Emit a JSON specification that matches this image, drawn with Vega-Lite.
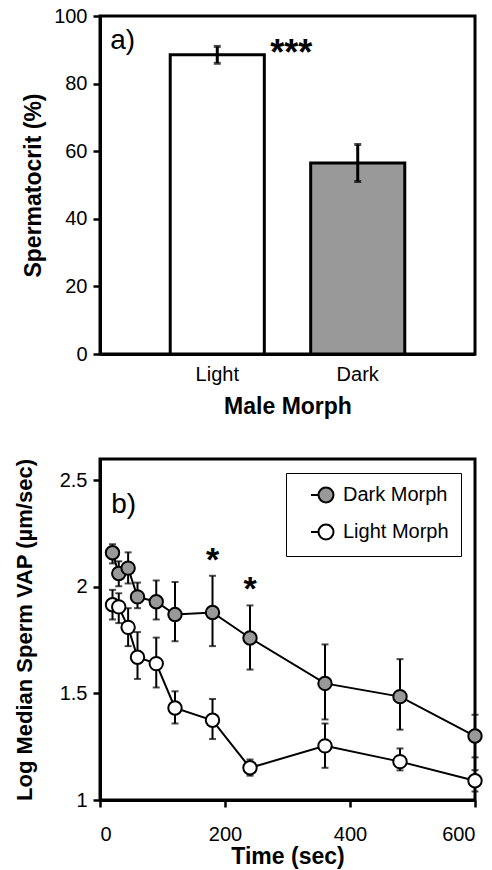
{
  "$schema": "https://vega.github.io/schema/vega-lite/v6.json",
  "background": "white",
  "padding": {"left": 11, "top": 4, "right": 10, "bottom": 2},
  "spacing": 36,
  "resolve": {"scale": {"fill": "independent"}, "legend": {"fill": "independent"}},
  "config": {
    "font": "Liberation Sans",
    "view": {"stroke": "black", "strokeWidth": 3},
    "axis": {"domainColor": "black", "domainWidth": 3, "tickColor": "black", "tickWidth": 2.5, "tickSize": 7, "labelColor": "black", "labelFontSize": 20, "labelFont": "Liberation Sans", "titleColor": "black", "titleFont": "Liberation Sans", "titleFontSize": 23, "titleFontWeight": "bold", "grid": false}
  },
  "vconcat": [
    {
      "width": 375,
      "height": 338,
      "data": {"values": [
        {"morph": "Light", "pct": 88.5, "lo": 86, "hi": 91},
        {"morph": "Dark", "pct": 56.5, "lo": 51, "hi": 62}
      ]},
      "encoding": {
        "x": {"field": "morph", "type": "nominal", "sort": ["Light", "Dark"], "scale": {"paddingInner": 0.33, "paddingOuter": 0.5}, "axis": {"title": "Male Morph", "labelAngle": 0, "ticks": false, "labelPadding": 10, "titlePadding": 11}}
      },
      "layer": [
        {
          "mark": {"type": "bar", "stroke": "black", "strokeWidth": 3},
          "encoding": {
            "y": {"field": "pct", "type": "quantitative", "title": "Spermatocrit (%)", "scale": {"domain": [0, 100]}, "axis": {"values": [0, 20, 40, 60, 80, 100], "labelPadding": 6, "titlePadding": 8}},
            "fill": {"field": "morph", "type": "nominal", "scale": {"domain": ["Light", "Dark"], "range": ["white", "#999999"]}, "legend": null}
          }
        },
        {
          "mark": {"type": "errorbar", "ticks": {"size": 7, "thickness": 3, "color": "black"}, "rule": {"strokeWidth": 3, "color": "black"}},
          "encoding": {
            "y": {"field": "lo", "type": "quantitative", "title": "Spermatocrit (%)", "scale": {"domain": [0, 100]}},
            "y2": {"field": "hi"}
          }
        },
        {
          "data": {"values": [{"note": "***"}]},
          "mark": {"type": "text", "fontSize": 36, "fontWeight": "bold", "dx": 74, "baseline": "alphabetic", "align": "center", "color": "black"},
          "encoding": {"x": {"datum": "Light"}, "y": {"datum": 85.5}, "text": {"field": "note"}}
        },
        {
          "data": {"values": [{"note": "a)"}]},
          "mark": {"type": "text", "fontSize": 28, "dx": -107, "baseline": "alphabetic", "align": "left", "color": "black"},
          "encoding": {"x": {"datum": "Light"}, "y": {"datum": 90.2}, "text": {"field": "note"}}
        }
      ]
    },
    {
      "width": 375,
      "height": 341,
      "data": {"values": [
        {"morph": "Dark Morph", "t": 20, "v": 2.16, "lo": 2.11, "hi": 2.2},
        {"morph": "Dark Morph", "t": 30, "v": 2.063, "lo": 2.003, "hi": 2.12},
        {"morph": "Dark Morph", "t": 45, "v": 2.088, "lo": 2.016, "hi": 2.162},
        {"morph": "Dark Morph", "t": 60, "v": 1.953, "lo": 1.9, "hi": 2.02},
        {"morph": "Dark Morph", "t": 90, "v": 1.93, "lo": 1.847, "hi": 2.03},
        {"morph": "Dark Morph", "t": 120, "v": 1.87, "lo": 1.745, "hi": 2.023},
        {"morph": "Dark Morph", "t": 180, "v": 1.88, "lo": 1.722, "hi": 2.052, "sig": "*"},
        {"morph": "Dark Morph", "t": 240, "v": 1.76, "lo": 1.612, "hi": 1.913, "sig": "*"},
        {"morph": "Dark Morph", "t": 360, "v": 1.547, "lo": 1.378, "hi": 1.73},
        {"morph": "Dark Morph", "t": 480, "v": 1.485, "lo": 1.33, "hi": 1.661},
        {"morph": "Dark Morph", "t": 600, "v": 1.3, "lo": 1.2, "hi": 1.4},
        {"morph": "Light Morph", "t": 20, "v": 1.916, "lo": 1.847, "hi": 1.986},
        {"morph": "Light Morph", "t": 30, "v": 1.906, "lo": 1.83, "hi": 1.97},
        {"morph": "Light Morph", "t": 45, "v": 1.81, "lo": 1.722, "hi": 1.9},
        {"morph": "Light Morph", "t": 60, "v": 1.67, "lo": 1.568, "hi": 1.788},
        {"morph": "Light Morph", "t": 90, "v": 1.64, "lo": 1.528, "hi": 1.762},
        {"morph": "Light Morph", "t": 120, "v": 1.432, "lo": 1.359, "hi": 1.51},
        {"morph": "Light Morph", "t": 180, "v": 1.374, "lo": 1.286, "hi": 1.474},
        {"morph": "Light Morph", "t": 240, "v": 1.151, "lo": 1.114, "hi": 1.19},
        {"morph": "Light Morph", "t": 360, "v": 1.254, "lo": 1.151, "hi": 1.359},
        {"morph": "Light Morph", "t": 480, "v": 1.18, "lo": 1.139, "hi": 1.242},
        {"morph": "Light Morph", "t": 600, "v": 1.09, "lo": 1.04, "hi": 1.14}
      ]},
      "layer": [
        {
          "mark": {"type": "errorbar", "ticks": {"size": 7, "thickness": 2, "color": "black"}, "rule": {"strokeWidth": 2, "color": "black"}},
          "encoding": {
            "x": {"field": "t", "type": "quantitative", "title": "Time (sec)", "scale": {"domain": [0, 600]}, "axis": {"values": [0, 200, 400, 600], "labelPadding": 17, "titlePadding": 1}},
            "y": {"field": "lo", "type": "quantitative", "title": "Log Median Sperm VAP (µm/sec)", "scale": {"domain": [1, 2.5]}, "axis": {"values": [1, 1.5, 2, 2.5], "format": "~g", "labelPadding": 6, "titlePadding": 23, "titleFontSize": 22}},
            "y2": {"field": "hi"},
            "detail": {"field": "morph"}
          }
        },
        {
          "mark": {"type": "line", "color": "black", "strokeWidth": 2},
          "encoding": {
            "x": {"field": "t", "type": "quantitative", "title": "Time (sec)", "scale": {"domain": [0, 600]}},
            "y": {"field": "v", "type": "quantitative", "title": "Log Median Sperm VAP (µm/sec)", "scale": {"domain": [1, 2.5]}},
            "detail": {"field": "morph"}
          }
        },
        {
          "mark": {"type": "point", "filled": true, "stroke": "black", "strokeWidth": 2, "size": 180, "opacity": 1},
          "encoding": {
            "x": {"field": "t", "type": "quantitative", "title": "Time (sec)", "scale": {"domain": [0, 600]}},
            "y": {"field": "v", "type": "quantitative", "title": "Log Median Sperm VAP (µm/sec)", "scale": {"domain": [1, 2.5]}},
            "fill": {"field": "morph", "type": "nominal", "scale": {"domain": ["Dark Morph", "Light Morph"], "range": ["#999999", "white"]},
              "legend": {"title": null, "orient": "top-right", "offset": 14, "strokeColor": "black", "fillColor": "white", "padding": 12, "labelFontSize": 20, "labelFont": "Liberation Sans", "labelColor": "black", "symbolType": "M-2,0H-1M1,0A1,1,0,1,1,-1,0A1,1,0,1,1,1,0Z", "symbolSize": 225, "symbolStrokeColor": "black", "symbolStrokeWidth": 2, "symbolOffset": 18, "labelOffset": 7, "rowPadding": 13,
                "encode": {"legend": {"update": {"strokeWidth": {"value": 1.5}}}}}}
          }
        },
        {
          "transform": [{"filter": "datum.sig"}],
          "mark": {"type": "text", "fontSize": 34, "fontWeight": "bold", "baseline": "alphabetic", "align": "center", "dy": -5, "color": "black"},
          "encoding": {
            "x": {"field": "t", "type": "quantitative", "title": "Time (sec)", "scale": {"domain": [0, 600]}},
            "y": {"field": "hi", "type": "quantitative", "title": "Log Median Sperm VAP (µm/sec)", "scale": {"domain": [1, 2.5]}},
            "text": {"field": "sig"}
          }
        },
        {
          "data": {"values": [{"note": "b)"}]},
          "mark": {"type": "text", "fontSize": 28, "baseline": "alphabetic", "align": "left", "color": "black"},
          "encoding": {"x": {"datum": 18}, "y": {"datum": 2.346}, "text": {"field": "note"}}
        }
      ]
    }
  ]
}
